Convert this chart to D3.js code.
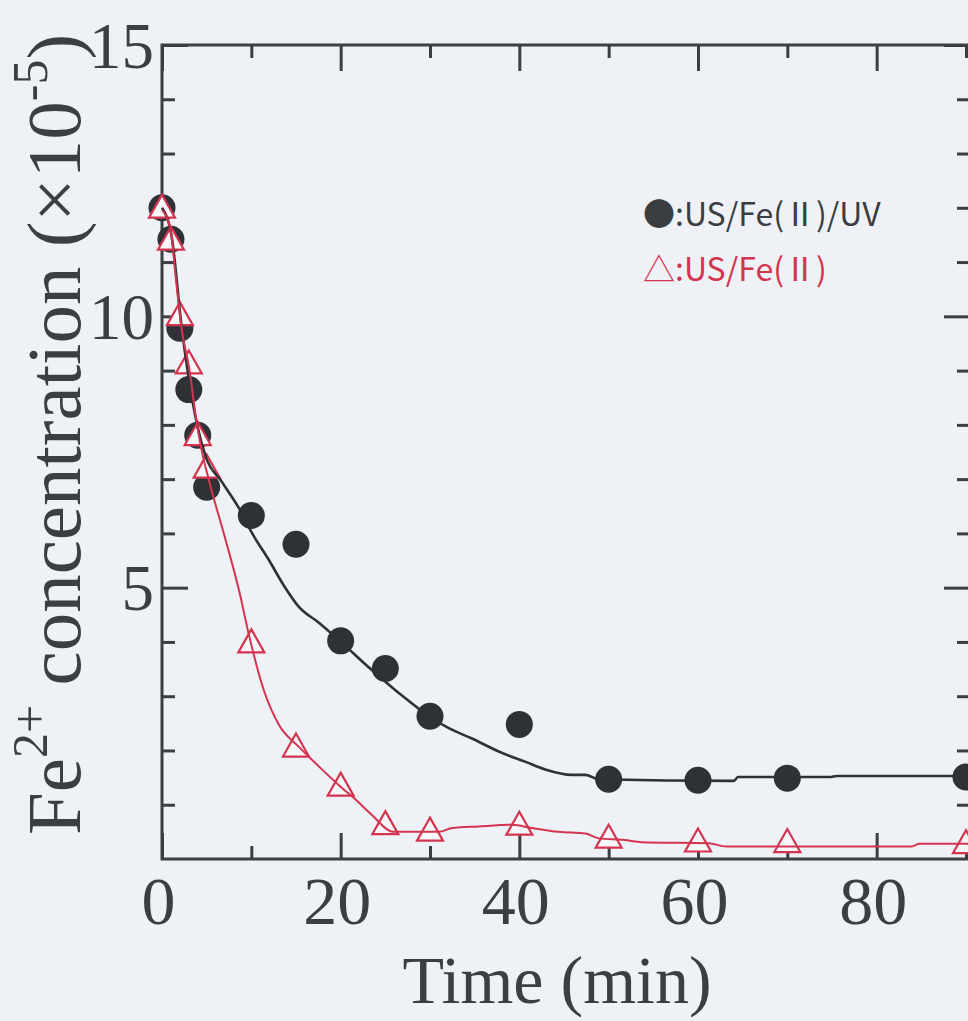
<!DOCTYPE html>
<html><head><meta charset="utf-8">
<script src="https://cdn.jsdelivr.net/npm/d3@7"></script>
<style>
html,body{margin:0;padding:0;background:#eef1f4;}
svg{display:block}
</style></head><body>
<svg id="chart" width="968" height="1021"></svg>
<script>
// ---- data ----
const timeMin = [0, 1, 2, 3, 4, 5, 10, 15, 20, 25, 30, 40, 50, 60, 70, 90];
const feUSFeUV = [12.0, 11.42, 9.78, 8.65, 7.81, 6.85, 6.33, 5.8, 4.02, 3.51, 2.63, 2.48, 1.47, 1.45, 1.49, 1.51];
const feUSFe   = [12.03, 11.44, 10.05, 9.16, 7.84, 7.24, 4.02, 2.1, 1.38, 0.67, 0.55, 0.66, 0.42, 0.35, 0.34, 0.32];

// fitted curves
const fitUVTime = [0, 1.1, 2.2, 3.4, 4.0, 4.9, 6.7, 8.6, 10.1, 12.0, 13.6, 15.3, 17.6, 19.9, 23.3, 26.5, 29.9, 32.1, 34.7, 37.7, 40.7, 42.9, 45.9, 47.4, 48.9, 64.0, 64.5, 74.8, 75.5, 90.45];
const fitUVConc = [12.0, 11.45, 9.8, 8.45, 7.95, 7.41, 6.95, 6.47, 6.0, 5.5, 5.05, 4.65, 4.35, 4.02, 3.51, 3.06, 2.63, 2.41, 2.22, 1.98, 1.79, 1.65, 1.55, 1.55, 1.47, 1.44, 1.51, 1.51, 1.53, 1.53];
const fitFeTime = [0, 0.97, 1.53, 2.27, 3.02, 3.95, 4.51, 5.25, 7.12, 8.61, 9.73, 11.4, 13.1, 15.3, 17.6, 19.8, 21.7, 23.5, 25.9, 31.0, 32.5, 35.4, 39.2, 41.4, 44.4, 47.4, 48.9, 51.8, 53.7, 61.2, 63.2, 83.9, 84.8, 90.45];
const fitFeConc = [11.96, 11.59, 10.73, 9.69, 9.07, 7.97, 7.48, 6.98, 5.88, 4.96, 4.13, 3.11, 2.47, 2.07, 1.70, 1.36, 1.09, 0.81, 0.50, 0.50, 0.57, 0.60, 0.63, 0.57, 0.50, 0.47, 0.38, 0.35, 0.31, 0.29, 0.23, 0.23, 0.28, 0.28];

const xMajorTicks = [0, 20, 40, 60, 80];
const xMinorTicks = [10, 30, 50, 70, 90];
const yMajorTicks = [5, 10, 15];
const yMinorTicks = [1, 2, 3, 4, 6, 7, 8, 9, 11, 12, 13, 14];
const xTickLabels = ["0", "20", "40", "60", "80"];
const yTickLabels = ["5", "10", "15"];
const legendLabels = ["●:US/Fe(Ⅱ)/UV", "△:US/Fe(Ⅱ)"];

// ---- drawing ----
const W = 968, H = 1021;
const AX = '#3b3f43', DOT = '#2e3135', RED = '#d3344f';
const serif = "'Liberation Serif','Times New Roman',serif";
const svg = d3.select('#chart');
svg.append('rect').attr('width', W).attr('height', H).attr('fill', '#eef1f5');

const x = d3.scaleLinear().domain([0, 90.45]).range([162, 970]);
const y = d3.scaleLinear().domain([0, 15]).range([859, 45]);
const [x0, x1] = x.range(), [y0, y1] = y.range();

function styleAxis(g) {
  g.select('.domain').remove();
  g.selectAll('.tick line').attr('stroke', AX).attr('stroke-width', 3);
  g.selectAll('.tick text').attr('font-family', serif).attr('fill', AX);
}
const MAJ = 26, MIN = 13;
// bottom
svg.append('g').attr('transform', `translate(0,${y0})`)
  .call(d3.axisBottom(x).tickValues(xMajorTicks).tickSize(-MAJ).tickPadding(17)
    .tickFormat((d, i) => xTickLabels[i]))
  .call(styleAxis)
  .call(g => g.selectAll('.tick text').attr('font-size', 68).attr('dx', -4));
svg.append('g').attr('transform', `translate(0,${y0})`)
  .call(d3.axisBottom(x).tickValues(xMinorTicks).tickSize(-MIN).tickFormat(''))
  .call(styleAxis);
// top
svg.append('g').attr('transform', `translate(0,${y1})`)
  .call(d3.axisTop(x).tickValues(xMajorTicks).tickSize(-MAJ).tickFormat(''))
  .call(styleAxis);
svg.append('g').attr('transform', `translate(0,${y1})`)
  .call(d3.axisTop(x).tickValues(xMinorTicks).tickSize(-MIN).tickFormat(''))
  .call(styleAxis);
// left
svg.append('g').attr('transform', `translate(${x0},0)`)
  .call(d3.axisLeft(y).tickValues(yMajorTicks).tickSize(-MAJ).tickPadding(8)
    .tickFormat((d, i) => yTickLabels[i]))
  .call(styleAxis)
  .call(g => g.selectAll('.tick text').attr('font-size', 65).attr('dy', '0.34em'));
svg.append('g').attr('transform', `translate(${x0},0)`)
  .call(d3.axisLeft(y).tickValues(yMinorTicks).tickSize(-MIN).tickFormat(''))
  .call(styleAxis);
// right
svg.append('g').attr('transform', `translate(${x1},0)`)
  .call(d3.axisRight(y).tickValues(yMajorTicks).tickSize(-MAJ).tickFormat(''))
  .call(styleAxis);
svg.append('g').attr('transform', `translate(${x1},0)`)
  .call(d3.axisRight(y).tickValues(yMinorTicks).tickSize(-MIN).tickFormat(''))
  .call(styleAxis);

// frame
svg.append('rect').attr('x', x0).attr('y', y1).attr('width', x1 - x0).attr('height', y0 - y1)
  .attr('fill', 'none').attr('stroke', AX).attr('stroke-width', 3);

// markers
svg.append('g').selectAll('circle').data(timeMin).join('circle')
  .attr('cx', d => x(d)).attr('cy', (d, i) => y(feUSFeUV[i])).attr('r', 13.5).attr('fill', DOT);
const tri = 'M0,-11.5L13,11.5L-13,11.5Z';
svg.append('g').selectAll('path').data(timeMin).join('path')
  .attr('transform', (d, i) => `translate(${x(d)},${y(feUSFe[i])})`)
  .attr('d', tri).attr('fill', '#f6f7f9').attr('stroke', RED).attr('stroke-width', 2.2)
  .attr('stroke-linejoin', 'miter');

// fit lines
const line = d3.line().x(d => x(d[0])).y(d => y(d[1])).curve(d3.curveMonotoneX);
svg.append('path').datum(d3.zip(fitUVTime, fitUVConc)).attr('d', line)
  .attr('fill', 'none').attr('stroke', DOT).attr('stroke-width', 2.6);
svg.append('path').datum(d3.zip(fitFeTime, fitFeConc)).attr('d', line)
  .attr('fill', 'none').attr('stroke', RED).attr('stroke-width', 2);

// legend
const sans = "'Noto Sans CJK JP','Noto Sans',sans-serif";
svg.append('text').attr('x', 643).attr('y', 226).attr('font-family', sans).attr('font-size', 32)
  .attr('fill', '#3a3d41').text(legendLabels[0]);
svg.append('text').attr('x', 643).attr('y', 281).attr('font-family', sans).attr('font-size', 32)
  .attr('fill', RED).text(legendLabels[1]);

// axis titles
svg.append('text').attr('x', 557).attr('y', 1003).attr('text-anchor', 'middle')
  .attr('font-family', serif).attr('font-size', 68).attr('fill', AX).text('Time (min)');

const yl = svg.append('text').attr('transform', 'translate(80,835) rotate(-90)')
  .attr('font-family', serif).attr('font-size', 77).attr('fill', AX);
yl.append('tspan').text('Fe');
yl.append('tspan').attr('font-size', 50).attr('dy', -33).text('2+');
yl.append('tspan').attr('dy', 33).text(' concentration (×10');
yl.append('tspan').attr('font-size', 50).attr('dy', -33).text('-5');
yl.append('tspan').attr('dy', 33).text(')');
</script>
</body></html>
